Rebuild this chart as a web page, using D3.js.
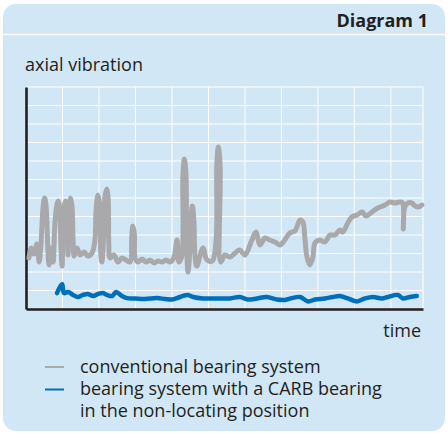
<!DOCTYPE html>
<html>
<head>
<meta charset="utf-8">
<script src="https://cdn.jsdelivr.net/npm/d3@7"></script>
<style>
  body { margin: 0; background: #fff; }
  svg { display: block; font-family: "Open Sans", "Noto Sans", sans-serif; font-variant-ligatures: none; }
</style>
</head>
<body>
<svg width="448" height="433"></svg>
<script>
// time in arbitrary units (one grid column = 10), vibration in grid rows
const conventionalTime = [0.8, 1.4, 2.2, 3.0, 3.6, 4.1, 4.7, 5.1, 5.5, 6.0, 6.3, 6.8, 7.4, 7.9, 8.4, 8.8, 9.2, 9.6, 9.9, 10.1, 10.4, 10.8, 11.2, 11.5, 11.8, 12.2, 12.6, 12.9, 13.2, 14.0, 14.8, 15.9, 17.0, 18.1, 18.9, 19.2, 19.7, 20.3, 20.5, 20.8, 21.4, 21.6, 22.1, 22.5, 22.7, 23.0, 24.1, 25.2, 26.3, 27.4, 28.5, 29.0, 29.3, 29.7, 29.9, 30.7, 31.8, 32.9, 34.0, 35.1, 36.2, 37.3, 38.4, 39.5, 40.5, 41.4, 41.9, 42.7, 43.0, 43.4, 43.8, 44.1, 44.4, 44.9, 45.2, 45.6, 46.0, 46.3, 46.8, 48.5, 49.6, 51.0, 52.1, 52.3, 52.7, 53.2, 53.4, 54.5, 55.9, 57.3, 58.6, 60.0, 61.9, 63.0, 64.1, 65.5, 66.8, 68.2, 69.6, 70.9, 72.3, 73.7, 75.1, 75.9, 76.4, 77.0, 77.8, 78.6, 79.2, 80.5, 81.9, 83.3, 84.7, 86.0, 86.8, 88.2, 89.3, 90.7, 92.1, 93.2, 94.8, 96.4, 98.4, 99.7, 101.1, 102.5, 103.2, 103.4, 103.8, 104.7, 105.8, 106.3, 107.4, 108.5]
const conventionalValue = [2.76, 3.30, 2.97, 3.51, 2.54, 3.46, 5.57, 6.00, 5.57, 3.19, 2.38, 3.30, 2.54, 4.54, 5.57, 5.84, 5.46, 3.19, 2.32, 4.00, 5.46, 5.84, 5.35, 2.92, 5.35, 6.00, 5.57, 3.73, 2.86, 3.30, 2.92, 3.08, 2.86, 3.03, 3.73, 5.35, 6.16, 5.46, 2.92, 2.54, 4.54, 6.00, 6.49, 6.00, 3.46, 2.76, 2.92, 2.54, 2.76, 2.65, 2.54, 4.00, 4.49, 4.05, 2.76, 2.54, 2.70, 2.54, 2.65, 2.49, 2.59, 2.54, 2.65, 2.54, 2.76, 3.73, 2.54, 2.86, 7.24, 8.11, 7.41, 2.92, 2.00, 3.19, 4.81, 5.57, 4.81, 2.92, 2.32, 3.30, 2.65, 2.59, 3.73, 7.78, 8.76, 7.78, 2.54, 2.92, 2.81, 3.03, 3.19, 2.92, 3.73, 4.16, 3.46, 3.84, 3.73, 3.62, 3.46, 3.73, 4.11, 4.22, 4.81, 4.70, 3.89, 2.81, 2.38, 2.76, 3.57, 3.73, 3.62, 4.00, 4.00, 4.27, 4.16, 4.65, 4.97, 5.08, 5.24, 5.03, 5.24, 5.46, 5.62, 5.78, 5.73, 5.78, 5.73, 4.32, 5.51, 5.73, 5.73, 5.62, 5.51, 5.62]

const carbTime = [8.5, 9.9, 10.4, 11.5, 12.9, 14.2, 15.6, 17.0, 18.4, 19.7, 21.1, 22.2, 23.6, 24.7, 26.3, 27.7, 29.9, 32.6, 35.9, 38.1, 40.0, 42.2, 44.4, 45.8, 48.5, 52.3, 55.9, 58.6, 60.8, 63.3, 66.0, 68.8, 71.0, 72.9, 75.1, 77.3, 79.2, 81.9, 84.1, 86.0, 88.2, 90.7, 92.9, 95.1, 97.5, 99.2, 101.9, 103.3, 105.2, 107.1]
const carbValue = [0.86, 1.35, 0.86, 0.92, 0.76, 0.65, 0.76, 0.81, 0.70, 0.81, 0.86, 0.76, 0.70, 0.92, 0.70, 0.59, 0.57, 0.54, 0.59, 0.54, 0.51, 0.65, 0.76, 0.65, 0.57, 0.57, 0.57, 0.65, 0.51, 0.57, 0.65, 0.51, 0.49, 0.59, 0.65, 0.41, 0.51, 0.57, 0.65, 0.70, 0.57, 0.41, 0.57, 0.65, 0.57, 0.65, 0.76, 0.57, 0.65, 0.70]

const xTicks = [10, 20, 30, 40, 50, 60, 70, 80, 90, 100]
const yTicks = [1, 2, 3, 4, 5, 6, 7, 8, 9, 10, 11]
const legendLabels = ['conventional bearing system', 'bearing system with a CARB bearing', 'in the non-locating position']

const colors = {
  panel: '#d1e7f6',
  gray: '#a9a9ab',
  blue: '#006fba',
  axis: '#231f20',
  text: '#231f20'
}

const svg = d3.select('svg')

// panel and header
svg.append('rect')
  .attr('x', 3).attr('y', 4).attr('width', 442).attr('height', 427)
  .attr('rx', 13).attr('fill', colors.panel)
svg.append('line')
  .attr('x1', 3).attr('x2', 445).attr('y1', 34.5).attr('y2', 34.5)
  .attr('stroke', '#fff').attr('stroke-width', 1.5)
svg.append('text')
  .attr('x', 428).attr('y', 27)
  .attr('text-anchor', 'end')
  .attr('font-size', 18).attr('font-weight', 'bold')
  .attr('fill', colors.text)
  .text('Diagram 1')

const x = d3.scaleLinear().domain([0, 108.8]).range([26, 423])
const y = d3.scaleLinear().domain([0, 12]).range([309, 87])

// grid
const grid = svg.append('g')
grid.selectAll('.vx').data(xTicks.concat([108.8])).enter().append('line')
  .attr('x1', d => x(d)).attr('x2', d => x(d))
  .attr('y1', y(12)).attr('y2', y(0))
  .attr('stroke', '#fff').attr('stroke-width', 1)
grid.selectAll('.hy').data(yTicks.concat([12])).enter().append('line')
  .attr('x1', x(0)).attr('x2', x(108.8))
  .attr('y1', d => y(d)).attr('y2', d => y(d))
  .attr('stroke', '#fff').attr('stroke-width', 1)

// axes
svg.append('g')
  .attr('transform', `translate(0,${y(0)})`)
  .call(d3.axisBottom(x).tickValues([]).tickSizeOuter(0))
  .call(g => g.select('.domain').attr('stroke', colors.axis).attr('stroke-width', 2.6))
svg.append('g')
  .attr('transform', `translate(${x(0)},0)`)
  .call(d3.axisLeft(y).tickValues([]).tickSizeOuter(0))
  .call(g => g.select('.domain').attr('stroke', colors.axis).attr('stroke-width', 2.6))

const line = d3.line()
  .x(d => x(d[0]))
  .y(d => y(d[1]))
  .curve(d3.curveCatmullRom.alpha(0.5))

svg.append('path')
  .datum(d3.zip(conventionalTime, conventionalValue))
  .attr('d', line)
  .attr('fill', 'none')
  .attr('stroke', colors.gray)
  .attr('stroke-width', 5)
  .attr('stroke-linejoin', 'round')
  .attr('stroke-linecap', 'round')

svg.append('path')
  .datum(d3.zip(carbTime, carbValue))
  .attr('d', line)
  .attr('fill', 'none')
  .attr('stroke', colors.blue)
  .attr('stroke-width', 4.5)
  .attr('stroke-linejoin', 'round')
  .attr('stroke-linecap', 'round')

// axis labels
svg.append('text')
  .attr('x', 25).attr('y', 71)
  .attr('font-size', 18).attr('fill', colors.text)
  .text('axial vibration')
svg.append('text')
  .attr('x', 421).attr('y', 337)
  .attr('text-anchor', 'end')
  .attr('font-size', 18).attr('fill', colors.text)
  .text('time')

// legend
const legend = svg.append('g')
legend.selectAll('text').data(legendLabels).enter().append('text')
  .attr('x', 80).attr('y', (d, i) => 373 + i * 22)
  .attr('font-size', 18).attr('fill', colors.text)
  .text(d => d)
legend.selectAll('line').data([colors.gray, colors.blue]).enter().append('line')
  .attr('x1', 45).attr('x2', 64)
  .attr('y1', (d, i) => 367 + i * 22.5).attr('y2', (d, i) => 367 + i * 22.5)
  .attr('stroke', d => d).attr('stroke-width', 2)
</script>
</body>
</html>
